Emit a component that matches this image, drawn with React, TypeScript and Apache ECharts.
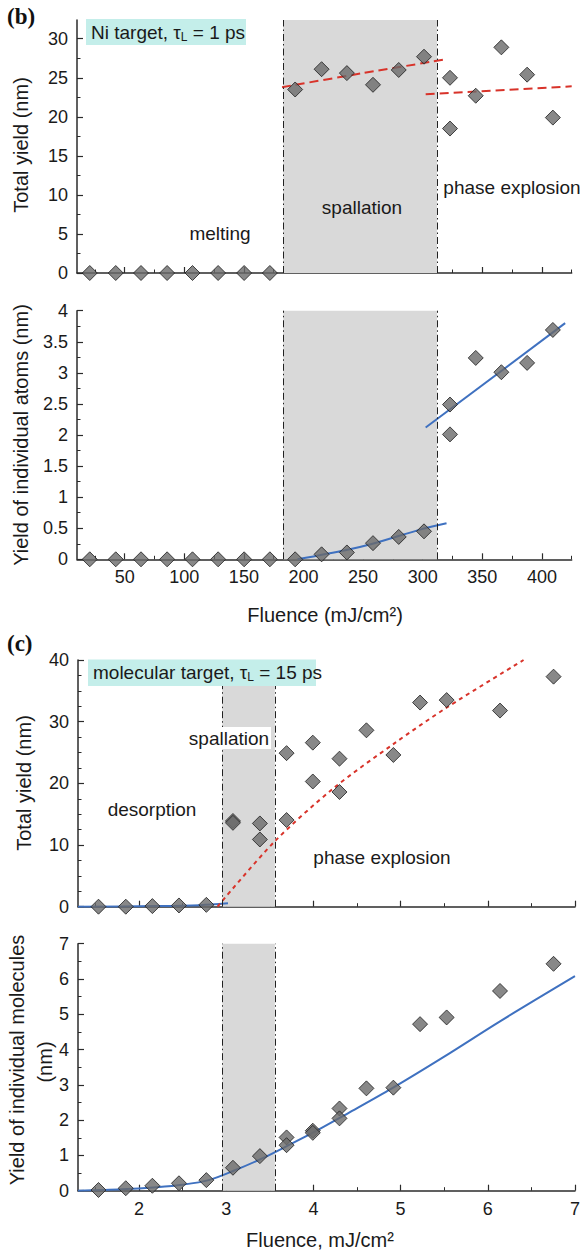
import React, { useEffect, useRef } from "react";
import * as echarts from "echarts";

// ---- Panel (b): Ni target, tau_L = 1 ps ----
const niFluence = [20.7, 42.5, 63.7, 85.6, 106.9, 128.4, 150.2, 171.8, 193, 215.2, 236.4, 258.3, 279.9, 301.1, 322.9, 322.9, 344.5, 366, 387.6, 409.2];
const niTotalYield = [0, 0, 0, 0, 0, 0, 0, 0, 23.5, 26.1, 25.6, 24.1, 26.0, 27.7, 25.0, 18.5, 22.7, 28.9, 25.4, 19.9];
const niAtomYield = [0, 0, 0, 0, 0, 0, 0, 0, 0, 0.08, 0.11, 0.26, 0.36, 0.45, 2.49, 2.01, 3.24, 3.01, 3.16, 3.69];

const niSpallFitX = [182, 250, 317];
const niSpallFitY = [23.8, 25.6, 27.3];
const niPhaseFitX = [302.5, 425];
const niPhaseFitY = [22.9, 23.9];
const niAtomSpallFitX = [195, 236, 258, 300, 320];
const niAtomSpallFitY = [0, 0.15, 0.25, 0.49, 0.58];
const niAtomPhaseFitX = [302.5, 419.5];
const niAtomPhaseFitY = [2.12, 3.8];

const niSpallRegion = [183, 312];
const niXTicks = [50, 100, 150, 200, 250, 300, 350, 400];
const niXMinor = [25, 75, 125, 175, 225, 275, 325, 375, 425];
const niTotalTicks = [0, 5, 10, 15, 20, 25, 30];
const niTotalMinor = [2.5, 7.5, 12.5, 17.5, 22.5, 27.5];
const niAtomTicks = [0, 0.5, 1, 1.5, 2, 2.5, 3, 3.5, 4];
const niAtomMinor = [0.25, 0.75, 1.25, 1.75, 2.25, 2.75, 3.25, 3.75];

// ---- Panel (c): molecular target, tau_L = 15 ps ----
const molFluenceTop = [1.535, 1.848, 2.153, 2.458, 2.772, 3.077, 3.077, 3.386, 3.386, 3.692, 3.692, 3.993, 3.993, 4.299, 4.299, 4.608, 4.917, 5.223, 5.528, 6.14, 6.754];
const molTotalYield = [0, 0, 0.1, 0.2, 0.3, 13.9, 13.6, 13.5, 10.9, 24.9, 14.05, 26.6, 20.3, 24.0, 18.6, 28.6, 24.6, 33.1, 33.5, 31.8, 37.3];
const molFluenceBottom = [1.535, 1.848, 2.153, 2.458, 2.772, 3.077, 3.386, 3.692, 3.692, 3.993, 3.993, 4.299, 4.299, 4.608, 4.917, 5.223, 5.528, 6.14, 6.754];
const molIndivYield = [0.02, 0.07, 0.14, 0.21, 0.3, 0.65, 0.98, 1.51, 1.29, 1.7, 1.64, 2.33, 2.05, 2.9, 2.92, 4.72, 4.91, 5.66, 6.43];

const molTotalFitX = [2.9, 3.55, 4.23, 4.92, 5.53, 6.41];
const molTotalFitY = [0, 10.5, 19.2, 26.4, 32.3, 40];
const molDesorbFitX = [1.3, 2.2, 2.7, 3.02];
const molDesorbFitY = [0, 0.1, 0.25, 0.55];
const molIndivFitX = [1.3, 1.8, 2.2, 2.5, 2.8, 3.1, 3.4, 3.7, 4.0, 4.4, 4.9, 5.5, 6.14, 7.0];
const molIndivFitY = [0, 0.04, 0.1, 0.17, 0.3, 0.58, 0.9, 1.27, 1.65, 2.2, 2.9, 3.8, 4.8, 6.08];

const molSpallRegion = [2.955, 3.558];
const molSpallTop = 35.8;
const molXTicks = [2, 3, 4, 5, 6, 7];
const molXMinor = [1.5, 2.5, 3.5, 4.5, 5.5, 6.5];
const molTotalTicks = [0, 10, 20, 30, 40];
const molTotalMinor = [2.5, 5, 7.5, 12.5, 15, 17.5, 22.5, 25, 27.5, 32.5, 35, 37.5];
const molIndivTicks = [0, 1, 2, 3, 4, 5, 6, 7];
const molIndivMinor = [0.5, 1.5, 2.5, 3.5, 4.5, 5.5, 6.5];

const SANS = "'Liberation Sans', Arial, Helvetica, sans-serif";
const SERIF = "'Liberation Serif', 'Times New Roman', serif";
const AXIS = "#2b2b2b";
const TXT = "#1a1a1a";

const pairs = (xs: number[], ys: number[]) => xs.map((x, i) => [x, ys[i]]);

function mainAxis(kind: "x" | "y", gridIndex: number, min: number, max: number, ticks: number[], showLabels: boolean) {
  return {
    type: "value",
    gridIndex,
    min,
    max,
    position: kind === "x" ? "bottom" : "left",
    axisLine: { show: true, onZero: false, lineStyle: { color: AXIS, width: 1.5 } },
    axisTick: { show: true, inside: true, length: 6, customValues: ticks, lineStyle: { color: AXIS, width: 1.2 } },
    axisLabel: { show: showLabels, customValues: ticks, margin: 9, color: TXT, fontSize: 18, fontFamily: SANS },
    splitLine: { show: false },
  };
}
function minorAxis(kind: "x" | "y", gridIndex: number, min: number, max: number, ticks: number[]) {
  return {
    type: "value",
    gridIndex,
    min,
    max,
    position: kind === "x" ? "bottom" : "left",
    axisLine: { show: false, onZero: false },
    axisTick: { show: true, inside: true, length: 3.5, customValues: ticks, lineStyle: { color: AXIS, width: 1 } },
    axisLabel: { show: false, customValues: ticks },
    splitLine: { show: false },
  };
}

const scatterStyle = {
  type: "scatter",
  symbol: "diamond",
  symbolSize: 15,
  z: 4,
  itemStyle: { color: "#6a6a6a", borderColor: "#1e1e1e", borderWidth: 1 },
};

const dashDot = { color: "#222", width: 1, type: [7, 3, 1.5, 3] };

function regionSeries(idx: number, region: number[], top: number | null) {
  const area = top === null
    ? [[{ xAxis: region[0] }, { xAxis: region[1] }]]
    : [[{ coord: [region[0], 0] }, { coord: [region[1], top] }]];
  const lines = top === null
    ? [{ xAxis: region[0] }, { xAxis: region[1] }]
    : [
        [{ coord: [region[0], 0] }, { coord: [region[0], top] }],
        [{ coord: [region[1], 0] }, { coord: [region[1], top] }],
      ];
  return {
    type: "line",
    xAxisIndex: idx,
    yAxisIndex: idx,
    data: [],
    z: 1,
    silent: true,
    markArea: { silent: true, itemStyle: { color: "#d9d9d9", opacity: 1 }, data: area },
    markLine: { silent: true, symbol: ["none", "none"], label: { show: false }, lineStyle: dashDot, data: lines },
  };
}

function fitLine(idx: number, xs: number[], ys: number[], color: string, type: any, smooth: any) {
  return {
    type: "line",
    xAxisIndex: idx,
    yAxisIndex: idx,
    data: pairs(xs, ys),
    showSymbol: false,
    symbol: "none",
    smooth,
    z: 3,
    lineStyle: { color, width: 2, type },
  };
}

const RED = "#d8332a";
const BLUE = "#3f71c0";

function txt(x: number, y: number, text: string, size = 19, extra: any = {}) {
  return {
    type: "text",
    x,
    y,
    z: 100,
    style: { text, fontSize: size, fontFamily: SANS, fill: TXT, align: "center", verticalAlign: "middle", ...extra },
  };
}
function vtxt(x: number, y: number, text: string, size = 20) {
  return {
    type: "text",
    x,
    y,
    rotation: Math.PI / 2,
    z: 100,
    style: { text, fontSize: size, fontFamily: SANS, fill: TXT, align: "center", verticalAlign: "middle" },
  };
}
function tauBox(x: number, y: number, w: number, h: number, pre: string, post: string) {
  return [
    { type: "rect", z: 90, shape: { x, y, width: w, height: h }, style: { fill: "#c4eeea" } },
    {
      type: "text",
      x: x + 5,
      y: y + h / 2,
      z: 100,
      style: {
        text: `{a|${pre}τ}{s|L}{a|${post}}`,
        verticalAlign: "middle",
        align: "left",
        rich: {
          a: { fontSize: 19, fontFamily: SANS, fill: TXT },
          s: { fontSize: 12, fontFamily: SANS, fill: TXT, verticalAlign: "top", padding: [9, 0, 0, 0] },
        },
      },
    },
  ];
}

export default function App() {
  const ref = useRef<HTMLDivElement>(null);
  useEffect(() => {
    if (!ref.current) return;
    const chart = echarts.init(ref.current, undefined, { renderer: "svg" });
    const option: any = {
      animation: false,
      backgroundColor: "#ffffff",
      grid: [
        { left: 77, top: 20, width: 494.7, height: 253 },
        { left: 77, top: 310.7, width: 494.7, height: 248.6 },
        { left: 78, top: 660, width: 497, height: 246.7 },
        { left: 78, top: 943.7, width: 497, height: 247 },
      ],
      xAxis: [
        mainAxis("x", 0, 10, 425, niXTicks, false),
        mainAxis("x", 1, 10, 425, niXTicks, true),
        mainAxis("x", 2, 1.3, 7, molXTicks, false),
        mainAxis("x", 3, 1.3, 7, molXTicks, true),
        minorAxis("x", 0, 10, 425, niXMinor),
        minorAxis("x", 1, 10, 425, niXMinor),
        minorAxis("x", 2, 1.3, 7, molXMinor),
        minorAxis("x", 3, 1.3, 7, molXMinor),
      ],
      yAxis: [
        mainAxis("y", 0, 0, 32.4, niTotalTicks, true),
        mainAxis("y", 1, 0, 4, niAtomTicks, true),
        mainAxis("y", 2, 0, 40, molTotalTicks, true),
        mainAxis("y", 3, 0, 7, molIndivTicks, true),
        minorAxis("y", 0, 0, 32.4, niTotalMinor),
        minorAxis("y", 1, 0, 4, niAtomMinor),
        minorAxis("y", 2, 0, 40, molTotalMinor),
        minorAxis("y", 3, 0, 7, molIndivMinor),
      ],
      series: [
        regionSeries(0, niSpallRegion, null),
        regionSeries(1, niSpallRegion, null),
        regionSeries(2, molSpallRegion, molSpallTop),
        regionSeries(3, molSpallRegion, null),
        fitLine(0, niSpallFitX, niSpallFitY, RED, [9, 5], 0.3),
        fitLine(0, niPhaseFitX, niPhaseFitY, RED, [9, 5], false),
        fitLine(1, niAtomSpallFitX, niAtomSpallFitY, BLUE, "solid", 0.3),
        fitLine(1, niAtomPhaseFitX, niAtomPhaseFitY, BLUE, "solid", false),
        fitLine(2, molDesorbFitX, molDesorbFitY, BLUE, "solid", 0.3),
        fitLine(2, molTotalFitX, molTotalFitY, RED, [4, 4], 0.3),
        fitLine(3, molIndivFitX, molIndivFitY, BLUE, "solid", 0.3),
        { ...scatterStyle, xAxisIndex: 0, yAxisIndex: 0, data: pairs(niFluence, niTotalYield) },
        { ...scatterStyle, xAxisIndex: 1, yAxisIndex: 1, data: pairs(niFluence, niAtomYield) },
        { ...scatterStyle, xAxisIndex: 2, yAxisIndex: 2, data: pairs(molFluenceTop, molTotalYield) },
        { ...scatterStyle, xAxisIndex: 3, yAxisIndex: 3, data: pairs(molFluenceBottom, molIndivYield) },
      ],
      graphic: [
        { type: "text", x: 7, y: 16, z: 100, style: { text: "(b)", fontSize: 23, fontWeight: "bold", fontFamily: SERIF, fill: "#111", verticalAlign: "middle" } },
        ...tauBox(86, 19, 160, 26, "Ni target, ", " = 1 ps"),
        txt(220, 233, "melting"),
        txt(362, 207, "spallation"),
        txt(512, 187, "phase explosion"),
        vtxt(21, 145, "Total yield (nm)"),
        vtxt(21, 435, "Yield of individual atoms (nm)"),
        txt(325, 615, "Fluence (mJ/cm²)", 20),
        { type: "text", x: 7, y: 643, z: 100, style: { text: "(c)", fontSize: 23, fontWeight: "bold", fontFamily: SERIF, fill: "#111", verticalAlign: "middle" } },
        ...tauBox(88, 659.5, 228, 26.5, "molecular target, ", " = 15 ps"),
        { type: "rect", z: 90, shape: { x: 188, y: 727, width: 83, height: 22 }, style: { fill: "#ffffff" } },
        txt(229, 738, "spallation"),
        txt(152, 809, "desorption"),
        txt(382, 857, "phase explosion"),
        vtxt(24, 783, "Total yield (nm)"),
        vtxt(17, 1060, "Yield of individual molecules"),
        vtxt(45, 1062, "(nm)"),
        txt(320, 1240, "Fluence, mJ/cm²", 20),
      ],
    };
    chart.setOption(option);
    return () => chart.dispose();
  }, []);
  return <div ref={ref} style={{ position: "absolute", left: 0, top: 0, width: 583, height: 1255 }} />;
}
